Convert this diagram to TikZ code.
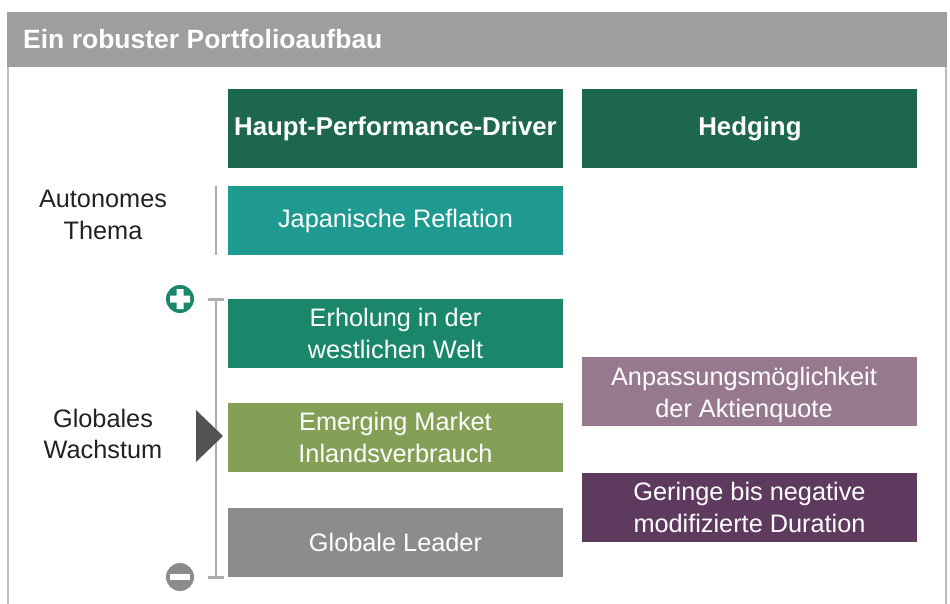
\documentclass[tikz,border=0pt]{standalone}
\usepackage{fontspec}
\setmainfont{Liberation Sans}
\usepackage{xcolor}
\usetikzlibrary{positioning}

\definecolor{headgray}{HTML}{9D9EA0}
\definecolor{panelgray}{HTML}{BDBDBD}
\definecolor{railgray}{HTML}{ADADAD}
\definecolor{labelgray}{HTML}{222222}
\definecolor{darkgreen}{HTML}{1D6650}
\definecolor{teal}{HTML}{1E9A90}
\definecolor{midgreen}{HTML}{1A876B}
\definecolor{olive}{HTML}{84A057}
\definecolor{leadgray}{HTML}{8C8C8C}
\definecolor{mauve}{HTML}{97798F}
\definecolor{plum}{HTML}{5F3A5F}
\definecolor{arrowgray}{HTML}{545454}

\begin{document}
\begin{tikzpicture}[
    x=1pt, y=-1pt,
    box/.style={rectangle, minimum width=335pt, minimum height=69pt, inner sep=0pt,
                text=white, align=center, font={\fontsize{25.3}{31.5}\selectfont}},
    headbox/.style={box, minimum height=79pt, fill=darkgreen,
                font={\bfseries\fontsize{25.8}{31.5}\selectfont}},
    side/.style={align=center, text=labelgray, font={\fontsize{25.3}{31.5}\selectfont}},
    rail/.style={draw=railgray, line width=2.5pt}
  ]
    \useasboundingbox (0,0) rectangle (950,604);

    % Title bar and panel frame
    \fill[headgray] (7,12) rectangle (947,67);
    \draw[panelgray, line width=2pt] (8,67) -- (8,604) (946,67) -- (946,604);
    \node[anchor=base west, inner sep=0pt, text=white,
          font={\bfseries\fontsize{26.5}{31.5}\selectfont}] (title) at (23,49)
          {Ein robuster Portfolioaufbau};

    % Column heads
    \node[headbox] (driver) at (395.5,128.5) {Haupt-Performance-Driver};
    \node[headbox, right=19pt of driver] (hedge) {Hedging};

    % Performance drivers
    \node[box, fill=teal] (japan) at (395.5,220.5) {Japanische Reflation};
    \node[box, fill=midgreen] (west) at (395.5,333.5) {Erholung in der\\westlichen Welt};
    \node[box, fill=olive] (emerging) at (395.5,437.5) {Emerging Market\\Inlandsverbrauch};
    \node[box, fill=leadgray] (leader) at (395.5,542.5) {Globale Leader};

    % Hedging
    \node[box, fill=mauve] (quote) at (749.5,391.5) {};
    \node[text=white, align=center, font={\fontsize{25.3}{31.5}\selectfont}] (quotetext) at (744,395)
          {Anpassungsmöglichkeit\\der Aktienquote};
    \node[box, fill=plum] (duration) at (749.5,507.5) {Geringe bis negative\\modifizierte Duration};

    % Row labels
    \node[side] (auto) at (103,215) {Autonomes\\Thema};
    \node[side] (growth) at (103,434) {Globales\\Wachstum};

    % Rails
    \draw[rail] (216,186) -- (216,255);
    \draw[rail] (216,299) -- (216,577);
    \draw[rail, line width=3pt] (208,299) -- (224,299) (208,577) -- (224,577);
    \fill[arrowgray] (196,410) -- (223,436) -- (196,462) -- cycle;

    % Plus / minus markers
    \node[circle, fill=midgreen, minimum size=28pt, inner sep=0pt] (plus) at (180,299) {};
    \fill[white] ([xshift=-10pt, yshift=-3.5pt]plus.center) rectangle ([xshift=10pt, yshift=3.5pt]plus.center)
                 ([xshift=-3.5pt, yshift=-10pt]plus.center) rectangle ([xshift=3.5pt, yshift=10pt]plus.center);
    \node[circle, fill=leadgray, minimum size=28pt, inner sep=0pt] (minus) at (180,577) {};
    \fill[white] ([xshift=-10pt, yshift=-3pt]minus.center) rectangle ([xshift=10pt, yshift=3pt]minus.center);
\end{tikzpicture}
\end{document}
